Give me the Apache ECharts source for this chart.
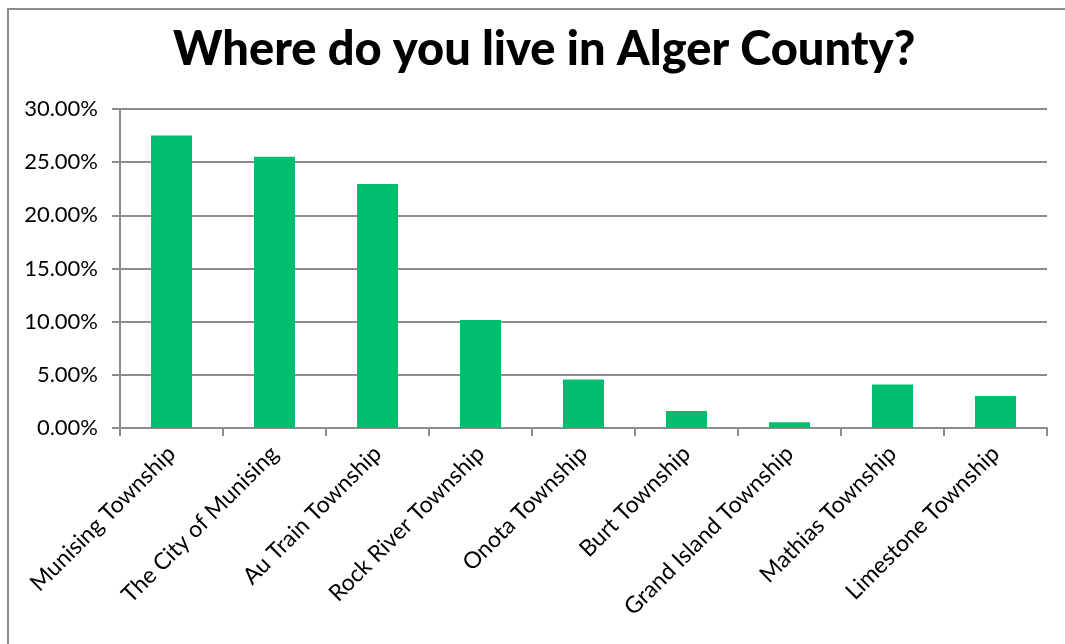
<!DOCTYPE html>
<html>
<head>
<meta charset="utf-8">
<script src="https://cdn.jsdelivr.net/npm/echarts@6/dist/echarts.min.js"></script>
<style>
  html, body { margin: 0; padding: 0; background: #fff; }
  #frame { position: absolute; left: 7px; top: 8px; width: 1065px; height: 650px; border: 2px solid #8c8c8c; box-sizing: border-box; }
  #chart { width: 1065px; height: 644px; }
</style>
</head>
<body>
<div id="frame"></div>
<div id="chart"></div>
<script>
// categories along the x axis
const places = [
  "Munising Township",
  "The City of Munising",
  "Au Train Township",
  "Rock River Township",
  "Onota Township",
  "Burt Township",
  "Grand Island Township",
  "Mathias Township",
  "Limestone Township",
];
// share of respondents (%)
const shares = [27.5, 25.5, 22.95, 10.15, 4.55, 1.6, 0.55, 4.1, 3.0];

const chart = echarts.init(document.getElementById("chart"));

const option = {
  backgroundColor: "transparent",
  animation: false,
  title: {
    text: "Where do you live in Alger County?",
    left: 168,
    top: 21,
    textStyle: {
      fontFamily: "Lato",
      fontWeight: 900,
      fontSize: 47,
      color: "#000",
    },
  },
  grid: {
    left: 120,
    right: 18,
    top: 109,
    bottom: 216,
  },
  xAxis: {
    type: "category",
    data: places,
    axisLine: { lineStyle: { color: "#8c8c8c", width: 2 } },
    axisTick: { show: true, length: 8, lineStyle: { color: "#8c8c8c", width: 2 } },
    axisLabel: {
      rotate: 45,
      interval: 0,
      margin: 22,
      fontFamily: "Lato",
      fontSize: 23,
      color: "#000",
    },
  },
  yAxis: {
    type: "value",
    min: 0,
    max: 30,
    interval: 5,
    axisLine: { show: true, lineStyle: { color: "#8c8c8c", width: 2 } },
    axisTick: { show: true, length: 8, lineStyle: { color: "#8c8c8c", width: 2 } },
    splitLine: { lineStyle: { color: "#8c8c8c", width: 2 } },
    axisLabel: {
      margin: 22,
      fontFamily: "Lato",
      fontSize: 22,
      color: "#000",
      formatter: (v) => v.toFixed(2) + "%",
    },
  },
  series: [
    {
      type: "bar",
      data: shares,
      barWidth: 41,
      itemStyle: { color: "#00be6e" },
    },
  ],
};

chart.setOption(option);
</script>
</body>
</html>
